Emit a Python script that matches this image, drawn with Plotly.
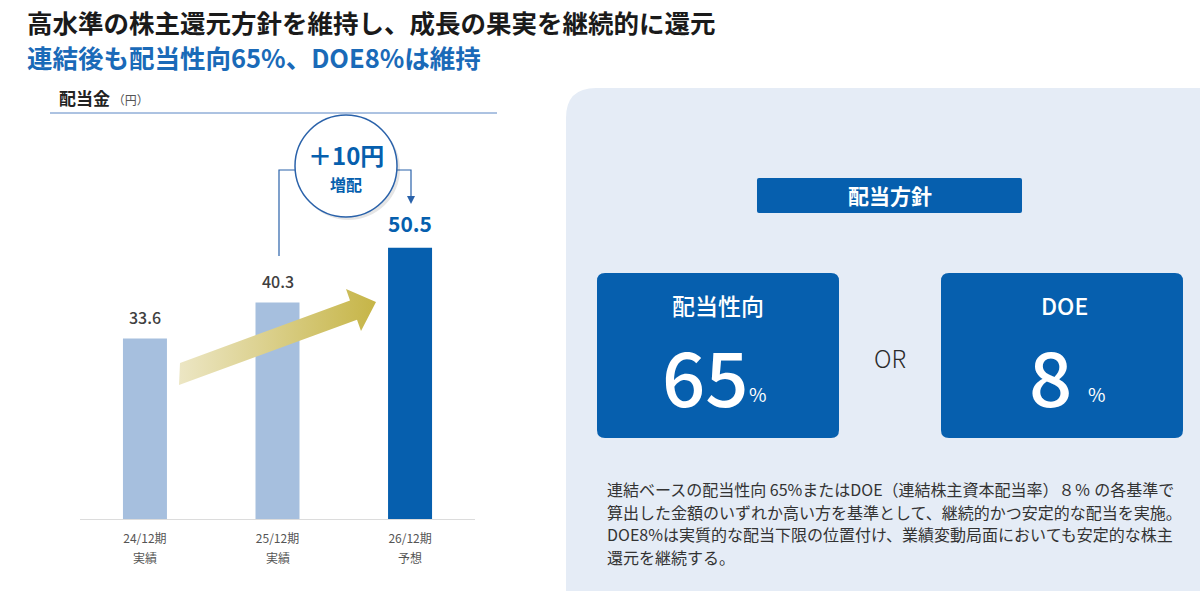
import plotly.graph_objects as go

W, H = 1200, 591

# ---------------- data ----------------
periods = ["24/12期", "25/12期", "26/12期"]
status = ["実績", "実績", "予想"]
dividends = [33.6, 40.3, 50.5]
bar_colors = ["#a6bfde", "#a6bfde", "#065fae"]
label_colors = ["#404040", "#404040", "#065fae"]
label_sizes = [16, 16, 21]

title_main = "高水準の株主還元方針を維持し、成長の果実を継続的に還元"
title_sub = "連結後も配当性向65%、DOE8%は維持"
chart_title = "配当金"
chart_unit = "（円）"
increase_text = "＋10円"
increase_sub = "増配"
policy_title = "配当方針"
payout_label = "配当性向"
payout_value = "65"
doe_label = "DOE"
doe_value = "8"
or_text = "OR"
policy_lines = [
    "連結ベースの配当性向 65%またはDOE（連結株主資本配当率）８％ の各基準で",
    "算出した金額のいずれか高い方を基準として、継続的かつ安定的な配当を実施。",
    "DOE8%は実質的な配当下限の位置付け、業績変動局面においても安定的な株主",
    "還元を継続する。",
]

JP = "Noto Sans CJK JP"
BLUE = "#065fae"
PANEL = "#e5ecf6"

# ---------------- helpers (pixel -> paper) ----------------
def X(px):
    return px / W


def Y(py):
    return 1 - py / H


def P(px, py):
    return f"{X(px):.5f},{Y(py):.5f}"


def rrect(x0, y0, x1, y1, r):
    return (f"M {P(x0 + r, y0)} L {P(x1 - r, y0)} Q {P(x1, y0)} {P(x1, y0 + r)} "
            f"L {P(x1, y1 - r)} Q {P(x1, y1)} {P(x1 - r, y1)} "
            f"L {P(x0 + r, y1)} Q {P(x0, y1)} {P(x0, y1 - r)} "
            f"L {P(x0, y0 + r)} Q {P(x0, y0)} {P(x0 + r, y0)} Z")


# axis geometry (pixels)
ax_left, ax_right = 80, 475
base_py, top_py = 519, 113
px_per_unit = 5.37
xr = [-0.49, 2.49]
yr = [0, (base_py - top_py) / px_per_unit]
x_scale = (ax_right - ax_left) / (xr[1] - xr[0])


def dx(px):
    return (px - ax_left) / x_scale + xr[0]


def dy(py):
    return (base_py - py) / px_per_unit


fig = go.Figure()

xs = list(range(len(periods)))
fig.add_trace(go.Bar(
    x=xs, y=dividends, marker=dict(color=bar_colors, line=dict(width=0)),
    width=0.332, hoverinfo="skip",
))

# growth arrow (decorative, gradient fill)
arrow_px = [(179, 385), (180, 363), (350, 300.6), (346, 289), (376, 302),
            (361, 331), (357, 319.7), (179, 385)]
fig.add_trace(go.Scatter(
    x=[dx(p[0]) for p in arrow_px], y=[dy(p[1]) for p in arrow_px],
    mode="lines", fill="toself", line=dict(width=0),
    fillgradient=dict(type="horizontal",
                      colorscale=[[0, "#ece6c4"], [1, "#c6b547"]]),
    hoverinfo="skip",
))

shapes = []
# right panel background
shapes.append(dict(
    type="path", xref="paper", yref="paper", layer="below",
    path=(f"M {P(566, 592)} L {P(566, 118)} Q {P(566, 88)} {P(596, 88)} "
          f"L {P(1201, 88)} L {P(1201, 592)} Z"),
    fillcolor=PANEL, line=dict(width=0)))
# header rule
shapes.append(dict(type="line", xref="paper", yref="paper",
                   x0=X(50), x1=X(497), y0=Y(113), y1=Y(113),
                   line=dict(color="#5a86c4", width=1)))
# policy title box
shapes.append(dict(type="path", xref="paper", yref="paper",
                   path=rrect(757, 178, 1022, 213, 2),
                   fillcolor=BLUE, line=dict(width=0)))
# two blue boxes
shapes.append(dict(type="path", xref="paper", yref="paper",
                   path=rrect(597, 273, 839, 438, 8),
                   fillcolor=BLUE, line=dict(width=0)))
shapes.append(dict(type="path", xref="paper", yref="paper",
                   path=rrect(941, 273, 1183, 438, 8),
                   fillcolor=BLUE, line=dict(width=0)))
# bracket lines
LC = "#2a62aa"
shapes.append(dict(type="path", xref="paper", yref="paper",
                   path=f"M {P(279, 256)} L {P(279, 170)} L {P(296, 170)}",
                   line=dict(color=LC, width=1.2)))
shapes.append(dict(type="path", xref="paper", yref="paper",
                   path=f"M {P(396, 170)} L {P(411, 170)} L {P(411, 198)}",
                   line=dict(color=LC, width=1.2)))
shapes.append(dict(type="path", xref="paper", yref="paper",
                   path=f"M {P(407, 196)} L {P(415, 196)} L {P(411, 204)} Z",
                   fillcolor=LC, line=dict(width=0)))
# circle shadow + circle
shapes.append(dict(type="circle", xref="paper", yref="paper",
                   x0=X(297), x1=X(400), y0=Y(118), y1=Y(220),
                   fillcolor="rgba(0,0,0,0.10)", line=dict(width=0)))
shapes.append(dict(type="circle", xref="paper", yref="paper",
                   x0=X(295), x1=X(397), y0=Y(115), y1=Y(217),
                   fillcolor="white", line=dict(color=LC, width=1.5)))

ann = []


def txt(text, px, py, size, color="#222", xanchor="left", yanchor="middle",
        family=JP, weight="normal"):
    ann.append(dict(text=text, x=X(px), y=Y(py), xref="paper", yref="paper",
                    xanchor=xanchor, yanchor=yanchor, showarrow=False,
                    borderpad=0,
                    font=dict(family=family, size=size, color=color,
                              weight=weight)))


txt(title_main, 26, 22, 25.5, "#1a1a1a", weight="bold")
txt(title_sub, 26, 57, 25.5, "#1a6ab8", weight="bold")
txt(f"<b>{chart_title}</b><span style='font-size:12px;color:#555'> {chart_unit}</span>",
    58, 97, 17, "#222")

# bar value labels (data coords)
for i, v in enumerate(dividends):
    lab = f"<b>{v:.1f}</b>" if i == len(dividends) - 1 else f"{v:.1f}"
    ann.append(dict(text=lab, x=xs[i], y=v, xref="x", yref="y",
                    xanchor="center", yanchor="bottom", yshift=8,
                    showarrow=False,
                    font=dict(family=JP, size=label_sizes[i],
                              color=label_colors[i], weight=500)))

# category labels (second line as separate text for spacing)
for i, s in enumerate(status):
    ann.append(dict(text=s, x=xs[i], y=Y(557), xref="x", yref="paper",
                    xanchor="center", yanchor="middle", showarrow=False,
                    font=dict(family=JP, size=12, color="#555")))

txt(increase_text, 346, 155, 24, BLUE, xanchor="center", weight="bold")
txt(increase_sub, 346, 184, 16, BLUE, xanchor="center", weight="bold")

# right panel text
txt(policy_title, 889.5, 195, 21, "white", xanchor="center", weight="bold")
txt(payout_label, 718, 305, 23, "white", xanchor="center", weight=500)
txt(doe_label, 1064, 305, 23, "white", xanchor="center", weight=500)
txt(payout_value, 705, 374, 76, "white", xanchor="center", weight=500)
txt("%", 758, 393, 19, "white", xanchor="center")
txt(doe_value, 1050, 374, 76, "white", xanchor="center", weight=500)
txt("%", 1097, 393, 19, "white", xanchor="center")
txt(or_text, 890, 357, 24, "#2a2a2a", xanchor="center", weight=300)

for k, line in enumerate(policy_lines):
    txt(line, 606, 489 + k * 22.7, 16, "#333333")

fig.update_layout(
    width=W, height=H, margin=dict(l=0, r=0, t=0, b=0),
    paper_bgcolor="white", plot_bgcolor="rgba(0,0,0,0)",
    showlegend=False, shapes=shapes, annotations=ann,
    xaxis=dict(domain=[X(ax_left), X(ax_right)], range=xr,
               tickvals=xs, ticktext=periods, ticklabelstandoff=9,
               tickfont=dict(family=JP, size=12, color="#555"),
               showgrid=False, zeroline=False, showline=True,
               linecolor="#dcdcdc", linewidth=1, ticks="", fixedrange=True),
    yaxis=dict(domain=[Y(base_py), Y(top_py)], range=yr, visible=False,
               fixedrange=True),
)

fig.write_html("out.html", config={"displayModeBar": False},
               post_script="document.body.style.margin='0';")
